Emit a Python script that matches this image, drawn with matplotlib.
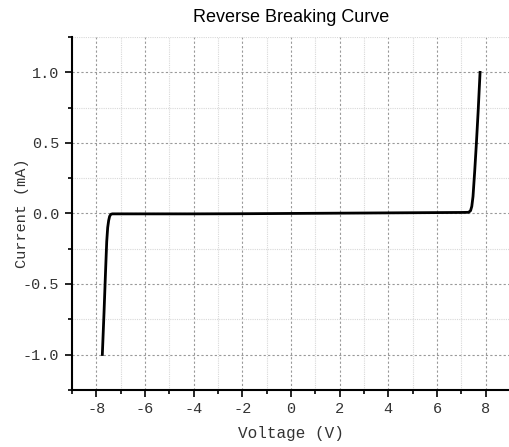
import numpy as np
import matplotlib
matplotlib.use("Agg")
import matplotlib.pyplot as plt
from matplotlib.ticker import MultipleLocator, FormatStrFormatter

# Reverse breakdown curve
voltage = [-7.75, -7.68, -7.62, -7.57, -7.53, -7.49, -7.45, -7.40, -7.34,
           -6.0, -4.0, -2.0, 0.0, 2.0, 4.0, 6.0, 7.0, 7.30, 7.38,
           7.43, 7.48, 7.55, 7.62, 7.69, 7.77]
current = [-1.0, -0.70, -0.42, -0.20, -0.10, -0.05, -0.02, -0.006, -0.003,
           -0.003, -0.003, -0.002, 0.0, 0.002, 0.004, 0.006, 0.007, 0.008, 0.02,
           0.05, 0.12, 0.30, 0.50, 0.72, 1.0]

plt.rcParams['axes.unicode_minus'] = False
mono = ['Liberation Mono', 'DejaVu Sans Mono']
txt = '#333333'

fig = plt.figure(figsize=(5.10, 4.47), dpi=100)
ax = fig.add_axes([0.141, 0.128, 0.859, 0.789])

ax.plot(voltage, current, color='black', linewidth=2)

ax.set_xlim(-9, 9)
ax.set_ylim(-1.25, 1.25)
ax.xaxis.set_major_locator(MultipleLocator(2))
ax.xaxis.set_minor_locator(MultipleLocator(1))
ax.yaxis.set_major_locator(MultipleLocator(0.5))
ax.yaxis.set_minor_locator(MultipleLocator(0.25))
ax.yaxis.set_major_formatter(FormatStrFormatter('%.1f'))

ax.grid(which='major', linestyle=(0, (2, 2)), color='#999999', linewidth=0.8)
ax.grid(which='minor', linestyle=(0, (1, 1)), color='#d8d8d8', linewidth=0.8)

ax.spines['top'].set_visible(False)
ax.spines['right'].set_visible(False)
ax.spines['left'].set_linewidth(1.5)
ax.spines['bottom'].set_linewidth(1.5)
ax.tick_params(which='both', width=1.2, labelcolor=txt)
ax.tick_params(which='major', length=5, pad=4)
ax.tick_params(which='minor', length=3)

for lab in ax.get_xticklabels() + ax.get_yticklabels():
    lab.set_family(mono)
    lab.set_fontsize(11)

ax.set_xlabel('Voltage (V)', family=mono, fontsize=11.5, labelpad=7, color=txt)
ax.set_ylabel('Current (mA)', family=mono, fontsize=11, color=txt)
ax.yaxis.set_label_coords(-0.098, 0.5)
ax.set_title('Reverse Breaking Curve', family=['Liberation Sans', 'DejaVu Sans'],
             fontsize=13, pad=11)

fig.savefig('out.png', dpi=100)
